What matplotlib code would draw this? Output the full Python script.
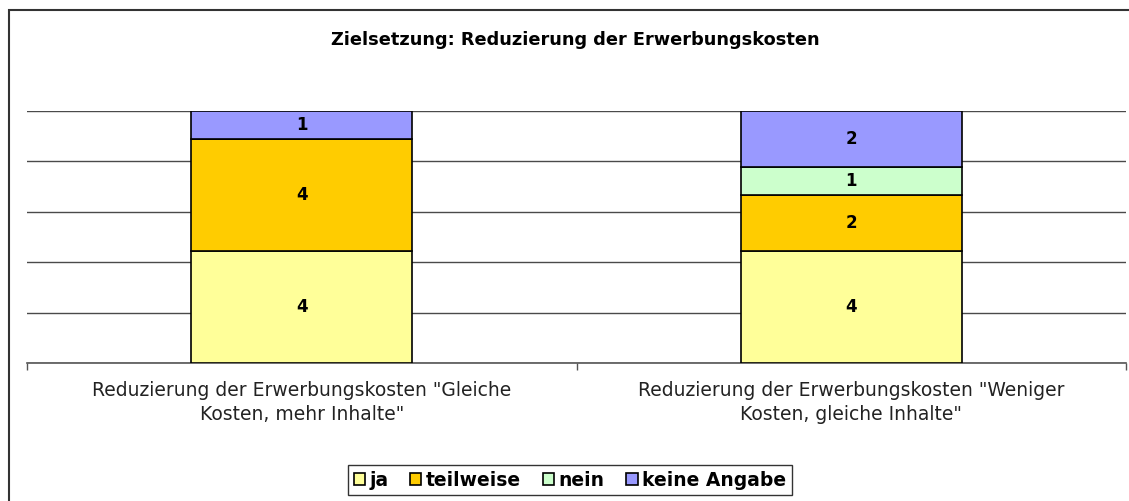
import numpy as np
import matplotlib
matplotlib.use("Agg")
import matplotlib.pyplot as plt
from matplotlib.patches import Rectangle

categories = ['Reduzierung der Erwerbungskosten "Gleiche\nKosten, mehr Inhalte"',
              'Reduzierung der Erwerbungskosten "Weniger\nKosten, gleiche Inhalte"']
series_names = ["ja", "teilweise", "nein", "keine Angabe"]
ja = [4, 4]
teilweise = [4, 2]
nein = [0, 1]
keine_angabe = [1, 2]
series_values = [ja, teilweise, nein, keine_angabe]
colors = ["#FFFF99", "#FFCC00", "#CCFFCC", "#9999FF"]
title = "Zielsetzung: Reduzierung der Erwerbungskosten"

fig = plt.figure(figsize=(11.29, 5.01), dpi=100)
ax = fig.add_axes([27/1129, (501-363)/501, (1126-27)/1129, (363-111)/501])

x = np.arange(len(categories))
bottom = np.zeros(len(categories))
handles = []
for name, vals, c in zip(series_names, series_values, colors):
    vals = np.array(vals, dtype=float)
    bars = ax.bar(x, vals, width=0.402, bottom=bottom, color=c, edgecolor="black",
                  linewidth=1.2, label=name, zorder=3)
    handles.append(bars)
    for xi, v, b in zip(x, vals, bottom):
        if v > 0:
            ax.text(xi, b + v / 2, f"{int(v)}", ha="center", va="center",
                    fontsize=12, fontweight="bold", family="DejaVu Sans", zorder=4)
    bottom += vals

ax.set_xlim(-0.5, len(categories) - 0.5)
ax.set_ylim(0, 9)
ax.set_yticks(np.arange(0, 9.01, 1.8))
ax.yaxis.grid(True, color="#4a4a4a", linewidth=1.0, zorder=0)
ax.axhline(9, color="black", linewidth=1.2, zorder=1)
ax.tick_params(axis="y", left=False, labelleft=False)
for s in ["top", "right", "left"]:
    ax.spines[s].set_visible(False)
ax.spines["bottom"].set_color("#555555")
ax.spines["bottom"].set_linewidth(1.2)
ax.set_xticks(x)
ax.set_xticklabels(categories, fontsize=13.5, family="DejaVu Sans", color="#222222",
                   linespacing=1.3)
ax.tick_params(axis="x", which="major", length=0, pad=13)
ax.set_xticks(np.arange(-0.5, len(categories)), minor=True)
ax.tick_params(axis="x", which="minor", length=5, color="#555555", width=1)

fig.text(575/1129, 1 - 40/501, title, ha="center", va="center", fontsize=12.8,
         fontweight="bold", family="DejaVu Sans")

leg = fig.legend(handles=handles, labels=series_names, loc="center",
                 bbox_to_anchor=(570/1129, 1 - 480/501), ncol=4, frameon=True,
                 prop={"family": "DejaVu Sans", "weight": "bold", "size": 13.5},
                 handlelength=0.6, handleheight=0.6, handletextpad=0.25,
                 columnspacing=1.15, borderpad=0.3, fancybox=False)
leg.get_frame().set_edgecolor("black")
leg.get_frame().set_linewidth(1.0)

fig.patches.append(Rectangle((9/1129, -0.2), 1.2, 1.2 - 10/501, transform=fig.transFigure,
                             fill=False, edgecolor="#333333", linewidth=1.5))

fig.savefig("out.png", dpi=100)
